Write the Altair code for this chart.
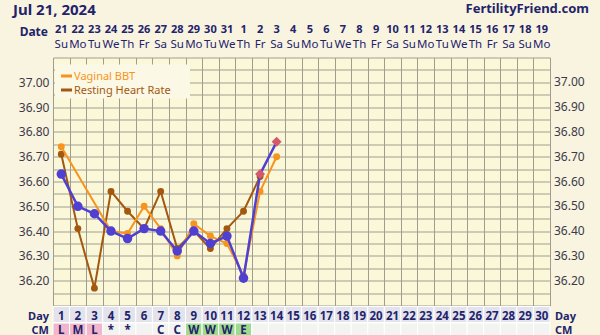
import altair as alt
import pandas as pd

# ---------------- data ----------------
days = list(range(1, 31))
dates = [21, 22, 23, 24, 25, 26, 27, 28, 29, 30, 31, 1, 2, 3, 4, 5, 6, 7, 8, 9,
         10, 11, 12, 13, 14, 15, 16, 17, 18, 19]
weekdays = ["Su", "Mo", "Tu", "We", "Th", "Fr", "Sa"] * 4 + ["Su", "Mo"]
cm_labels = ["L", "M", "L", "*", "*", "", "C", "C", "W", "W", "W", "E"] + [""] * 18
cm_kind = ["pink"] * 3 + ["none"] * 5 + ["green"] * 4 + ["none"] * 18

temp_days = list(range(1, 15))
temp_vals = [36.63, 36.50, 36.47, 36.40, 36.37, 36.41, 36.40, 36.32, 36.40, 36.35,
             36.38, 36.21, 36.63, 36.76]
temp_kind = ["circle"] * 12 + ["diamond"] * 2

bbt_days = [1, 4, 5, 6, 7, 8, 9, 10, 11, 12, 13, 14]
bbt_vals = [36.74, 36.40, 36.39, 36.50, 36.41, 36.30, 36.43, 36.38, 36.35, 36.22,
            36.56, 36.70]

rhr_days = list(range(1, 14))
rhr_vals = [36.71, 36.41, 36.17, 36.56, 36.48, 36.41, 36.56, 36.33, 36.40, 36.33,
            36.41, 36.48, 36.62]

y_labels = [36.20, 36.30, 36.40, 36.50, 36.60, 36.70, 36.80, 36.90, 37.00]
y_grid = [round(36.10 + 0.05 * i, 2) for i in range(21)]
x_grid = [d - 0.5 for d in days] + [30.5]

legend_items = ["Vaginal BBT", "Resting Heart Rate"]

# ---------------- style ----------------
FONT = "Noto Sans"
NAVY = "#23236B"
BLUE = "#5040D2"
ORANGE = "#F7941D"
BROWN = "#A3580F"
DIAMOND = "#D35A6C"
GRID = "#A09D8E"
W, H = 497, 248

XSCALE = alt.Scale(domain=[0.5, 30.5], nice=False, zero=False)
XAXIS = alt.Axis(values=x_grid, grid=True, gridColor=GRID, gridOpacity=1,
                 labels=False, ticks=False, domain=False, title=None, orient="bottom")
X = alt.X("day:Q", scale=XSCALE, axis=XAXIS)
X0 = alt.X("x0:Q", scale=XSCALE, axis=XAXIS)
Y = alt.Y("v:Q", scale=alt.Scale(domain=[36.10, 37.10], nice=False, zero=False),
          axis=alt.Axis(values=y_grid, grid=True, gridColor=GRID, gridOpacity=1,
                        labelExpr="round(datum.value*100) % 10 == 0 && datum.value > 36.15 && datum.value < 37.05 ? format(datum.value, '.2f') : ''",
                        ticks=False, domain=False, title=None, labelPadding=4,
                        labelFont=FONT, labelFontSize=12, labelColor="#3A3A4A"))

df_days = pd.DataFrame({"day": days, "date": dates, "wd": weekdays,
                        "cm": cm_labels, "kind": cm_kind})
df_temp = pd.DataFrame({"day": temp_days, "v": temp_vals, "kind": temp_kind})
df_bbt = pd.DataFrame({"day": bbt_days, "v": bbt_vals})
df_rhr = pd.DataFrame({"day": rhr_days, "v": rhr_vals})
df_ylab = pd.DataFrame({"v": y_labels})
one = pd.DataFrame({"a": [0]})

layers = []

# grid (via axes) with an invisible anchor
layers.append(alt.Chart(df_bbt).mark_point(opacity=0).encode(x=X, y=Y))

# legend box
layers.append(alt.Chart(one).mark_rect(fill="#FBF8E6").encode(
    x=alt.value(2), x2=alt.value(137), y=alt.value(7), y2=alt.value(41)))
for i, (txt, col) in enumerate(zip(legend_items, [ORANGE, BROWN])):
    layers.append(alt.Chart(one).mark_rule(color=col, strokeWidth=3).encode(
        x=alt.value(8), x2=alt.value(19), y=alt.value(18.5 + 14 * i)))
    layers.append(alt.Chart(one).mark_text(text=txt, color=col, font=FONT, fontSize=11,
                                           align="left", baseline="alphabetic").encode(
        x=alt.value(21), y=alt.value(22.5 + 14 * i)))

# series: resting heart rate (bottom), bbt, temp (top)
layers.append(alt.Chart(df_rhr).mark_line(color=BROWN, strokeWidth=2).encode(x=X, y=Y))
layers.append(alt.Chart(df_rhr).mark_point(filled=True, color=BROWN, size=48, opacity=1,
                                           shape="circle").encode(x=X, y=Y))
layers.append(alt.Chart(df_bbt).mark_line(color=ORANGE, strokeWidth=2).encode(x=X, y=Y))
layers.append(alt.Chart(df_bbt).mark_point(filled=True, color=ORANGE, size=48, opacity=1,
                                           shape="circle").encode(x=X, y=Y))
layers.append(alt.Chart(df_temp).mark_line(color=BLUE, strokeWidth=2.5).encode(x=X, y=Y))
layers.append(alt.Chart(df_temp).transform_filter("datum.kind == 'circle'").mark_point(
    filled=True, color=BLUE, size=90, opacity=1, shape="circle").encode(x=X, y=Y))
layers.append(alt.Chart(df_temp).transform_filter("datum.kind == 'diamond'").mark_point(
    filled=True, color=DIAMOND, size=100, opacity=1, shape="diamond").encode(x=X, y=Y))

# right-hand labels
layers.append(alt.Chart(df_ylab).mark_text(font=FONT, fontSize=12, color="#3A3A4A",
                                           align="left", baseline="middle").encode(
    x=alt.value(W + 4), y=Y, text=alt.Text("v:Q", format=".2f")))

# top rows: dates and weekdays
layers.append(alt.Chart(df_days).mark_text(font=FONT, fontSize=11, fontWeight="bold",
                                           color=NAVY, baseline="alphabetic").encode(
    x=X, y=alt.value(-24.5), text="date:N"))
layers.append(alt.Chart(df_days).mark_text(font=FONT, fontSize=11.5, color=NAVY,
                                           baseline="alphabetic").encode(
    x=X, y=alt.value(-9.5), text="wd:N"))

# bottom rows: Day and CM
layers.append(alt.Chart(df_days).transform_calculate(
    x0="datum.day - 0.5", x1="datum.day + 0.5").mark_rect(
    fill="#E3E3EC", stroke="#FFFFFF", strokeWidth=1).encode(
    x=X0, x2="x1:Q", y=alt.value(H + 1), y2=alt.value(H + 17)))
layers.append(alt.Chart(df_days).mark_text(font=FONT, fontSize=11.5, fontWeight="bold",
                                           color=NAVY, baseline="alphabetic").encode(
    x=X, y=alt.value(H + 14), text="day:N"))
layers.append(alt.Chart(df_days).transform_calculate(
    x0="datum.day - 0.5", x1="datum.day + 0.5").mark_rect(
    stroke="#FFFFFF", strokeWidth=1).encode(
    x=X0, x2="x1:Q", y=alt.value(H + 17.5), y2=alt.value(H + 35),
    fill=alt.Color("kind:N", scale=alt.Scale(domain=["pink", "green", "none"],
                                             range=["#F2B6CC", "#9EDB8E", "#F3F3F1"]),
                   legend=None)))
layers.append(alt.Chart(df_days).mark_text(font=FONT, fontSize=11.5, fontWeight="bold",
                                           color=NAVY, baseline="alphabetic").encode(
    x=X, y=alt.value(H + 28), text="cm:N"))

# row titles
for lbl, yy in [("Day", H + 14), ("CM", H + 28)]:
    layers.append(alt.Chart(one).mark_text(text=lbl, font=FONT, fontSize=11, fontWeight="bold",
                                           color=NAVY, align="right", baseline="alphabetic").encode(
        x=alt.value(-4), y=alt.value(yy)))
    layers.append(alt.Chart(one).mark_text(text=lbl, font=FONT, fontSize=11, fontWeight="bold",
                                           color=NAVY, align="left", baseline="alphabetic").encode(
        x=alt.value(W + 5), y=alt.value(yy)))
layers.append(alt.Chart(one).mark_text(text="Date", font=FONT, fontSize=12, fontWeight="bold",
                                       color=NAVY, align="right", baseline="alphabetic").encode(
    x=alt.value(-5), y=alt.value(-21.5)))

# header texts
layers.append(alt.Chart(one).mark_text(text="Jul 21, 2024", font=FONT, fontSize=15,
                                       fontWeight="bold", color=NAVY, align="left",
                                       baseline="alphabetic").encode(
    x=alt.value(-40), y=alt.value(-42.5)))
layers.append(alt.Chart(one).mark_text(text="FertilityFriend.com", font=FONT, fontSize=13,
                                       fontWeight="bold", color=NAVY, align="right",
                                       baseline="alphabetic").encode(
    x=alt.value(536), y=alt.value(-45)))

chart = alt.layer(*layers).properties(
    width=W, height=H,
    autosize=alt.AutoSizeParams(type="none"),
    padding={"left": 53, "top": 57.5, "right": 50, "bottom": 29.5},
    background="#F9F4E0",
).configure_view(fill="#FBF8DA", stroke=None)

chart.save("out.html", embed_options={"renderer": "svg", "actions": False})
